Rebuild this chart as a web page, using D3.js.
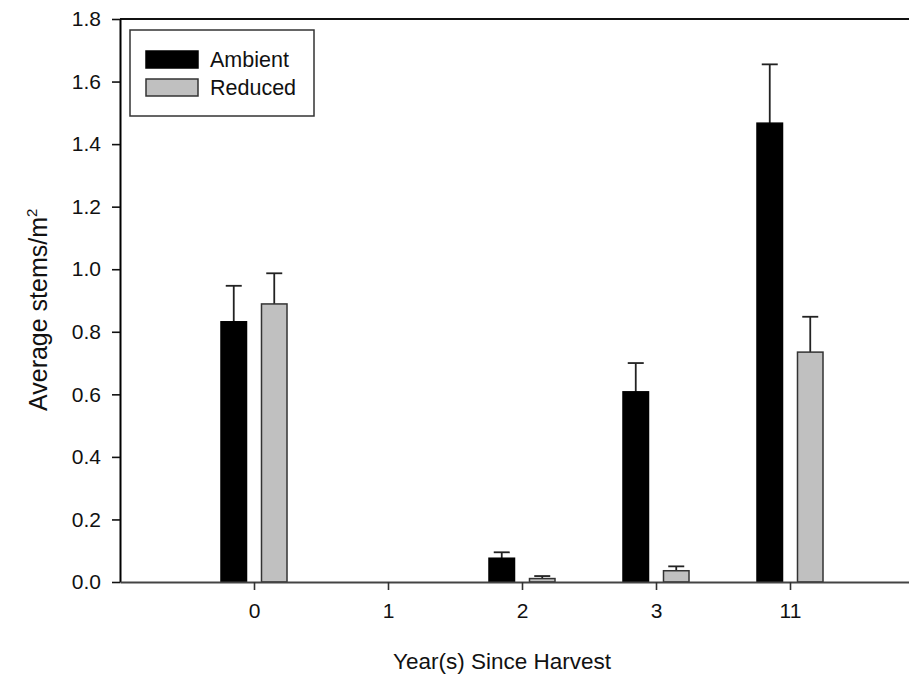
<!DOCTYPE html>
<html>
<head>
<meta charset="utf-8">
<script src="https://cdn.jsdelivr.net/npm/d3@7"></script>
<style>
  html, body { margin: 0; padding: 0; background: #fff; }
  svg { display: block; font-family: Arial, "Liberation Sans", sans-serif; }
</style>
</head>
<body>
<svg id="chart" width="909" height="679"></svg>
<script>
// Years since harvest (categories)
const years = ["0", "1", "2", "3", "11"];
const series = ["Ambient", "Reduced"];
// Mean stems per square metre
const ambientMean = [0.832, 0, 0.076, 0.608, 1.467];
const reducedMean = [0.889, 0, 0.011, 0.036, 0.735];
// Standard errors (upper bars only)
const ambientSE = [0.115, 0, 0.019, 0.092, 0.188];
const reducedSE = [0.098, 0, 0.008, 0.014, 0.113];
const yTicks = [0, 0.2, 0.4, 0.6, 0.8, 1.0, 1.2, 1.4, 1.6, 1.8];

const colors = { Ambient: "#000000", Reduced: "#c0c0c0" };

const svg = d3.select("#chart");
const plotLeft = 120, plotRight = 924, plotTop = 19, plotBottom = 582;

const x = d3.scalePoint().domain(years).range([plotLeft, plotRight]).padding(1);
const xs = d3.scaleBand().domain(series).range([-40.5, 40.5])
  .paddingInner(0.37).paddingOuter(0.185);
const y = d3.scaleLinear().domain([0, 1.8]).range([plotBottom, plotTop]);

const rows = [];
years.forEach((yr, i) => {
  rows.push({ year: yr, s: "Ambient", v: ambientMean[i], se: ambientSE[i] });
  rows.push({ year: yr, s: "Reduced", v: reducedMean[i], se: reducedSE[i] });
});
const shown = rows.filter(d => d.v > 0);

// frame: top border
svg.append("line")
  .attr("x1", plotLeft).attr("x2", plotRight).attr("y1", plotTop).attr("y2", plotTop)
  .attr("stroke", "#111").attr("stroke-width", 2);

// error bars (drawn under bars so the stem starts at bar top)
const eb = svg.append("g");
eb.selectAll("line.stem").data(shown).join("line").attr("class", "stem")
  .attr("x1", d => x(d.year) + xs(d.s) + xs.bandwidth() / 2)
  .attr("x2", d => x(d.year) + xs(d.s) + xs.bandwidth() / 2)
  .attr("y1", d => y(d.v)).attr("y2", d => y(d.v + d.se))
  .attr("stroke", "#222").attr("stroke-width", 1.8);
eb.selectAll("line.cap").data(shown).join("line").attr("class", "cap")
  .attr("x1", d => x(d.year) + xs(d.s) + xs.bandwidth() / 2 - 8)
  .attr("x2", d => x(d.year) + xs(d.s) + xs.bandwidth() / 2 + 8)
  .attr("y1", d => y(d.v + d.se)).attr("y2", d => y(d.v + d.se))
  .attr("stroke", "#222").attr("stroke-width", 1.8);

// bars
svg.append("g").selectAll("rect").data(shown).join("rect")
  .attr("x", d => x(d.year) + xs(d.s))
  .attr("width", xs.bandwidth())
  .attr("y", d => y(d.v))
  .attr("height", d => y(0) - y(d.v))
  .attr("fill", d => colors[d.s])
  .attr("stroke", d => d.s === "Reduced" ? "#333" : "#000")
  .attr("stroke-width", 1.5);

// y axis
const yAxis = svg.append("g").attr("transform", `translate(${plotLeft},0)`)
  .call(d3.axisLeft(y).tickValues(yTicks).tickFormat(d3.format(".1f"))
    .tickSize(8).tickPadding(11).tickSizeOuter(0));
yAxis.select(".domain").attr("stroke", "#000").attr("stroke-width", 2);
yAxis.selectAll(".tick line").attr("stroke", "#111").attr("stroke-width", 1.6);
yAxis.selectAll(".tick text").attr("font-size", "21px").attr("fill", "#111")
  .attr("font-family", "Arial, 'Liberation Sans', sans-serif");

// x axis
const xAxis = svg.append("g").attr("transform", `translate(0,${plotBottom})`)
  .call(d3.axisBottom(x).tickSize(8).tickPadding(13).tickSizeOuter(0));
xAxis.select(".domain").attr("stroke", "#444").attr("stroke-width", 2);
xAxis.selectAll(".tick line").attr("stroke", "#333").attr("stroke-width", 1.6);
xAxis.selectAll(".tick text").attr("font-size", "21px").attr("fill", "#111")
  .attr("font-family", "Arial, 'Liberation Sans', sans-serif");

// axis titles
svg.append("text")
  .attr("x", 502).attr("y", 669)
  .attr("text-anchor", "middle")
  .attr("font-size", "22.5px").attr("fill", "#111")
  .text("Year(s) Since Harvest");

const yt = svg.append("text")
  .attr("transform", "translate(47,411) rotate(-90)")
  .attr("text-anchor", "start")
  .attr("font-size", "25px").attr("fill", "#111");
yt.append("tspan").text("Average stems/m");
yt.append("tspan").attr("font-size", "15px").attr("dy", "-10").text("2");

// legend
const lg = svg.append("g");
lg.append("rect").attr("x", 130).attr("y", 30).attr("width", 184).attr("height", 86)
  .attr("fill", "#fff").attr("stroke", "#333").attr("stroke-width", 1.5);
series.forEach((s, i) => {
  lg.append("rect").attr("x", 146).attr("y", 51 + i * 28).attr("width", 52).attr("height", 17)
    .attr("fill", colors[s]).attr("stroke", s === "Reduced" ? "#333" : "#000").attr("stroke-width", 1.5);
  lg.append("text").attr("x", 210).attr("y", 67 + i * 27.5)
    .attr("font-size", "21.5px").attr("fill", "#111").text(s);
});
</script>
</body>
</html>
